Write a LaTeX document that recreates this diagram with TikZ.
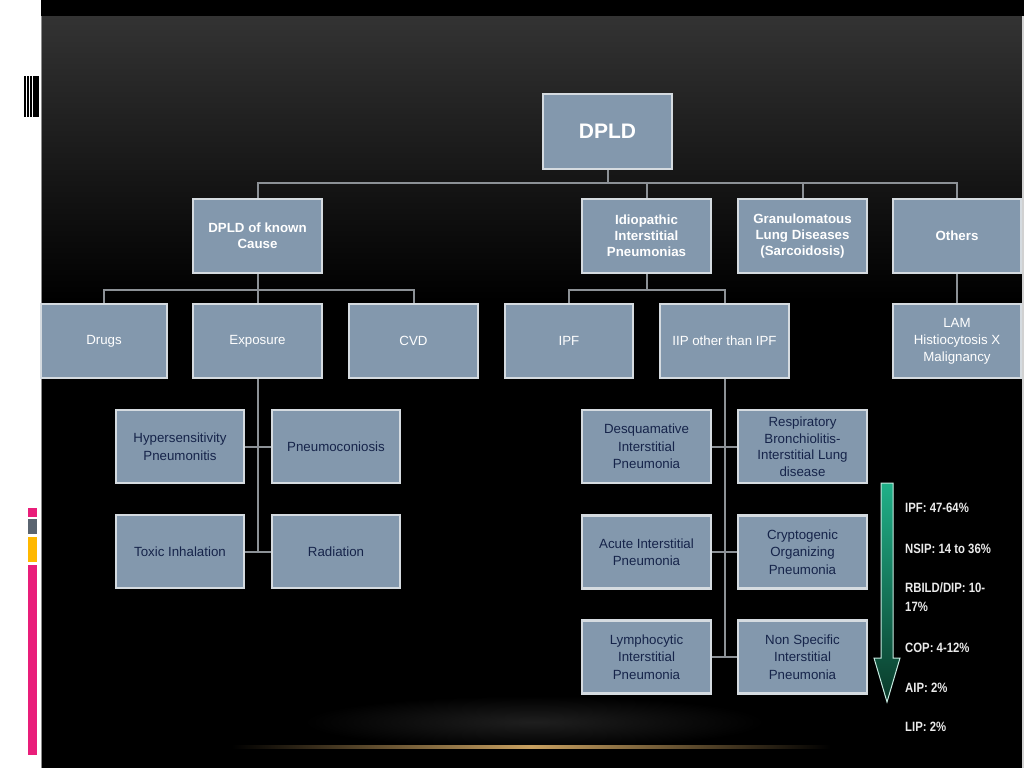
\documentclass[tikz,border=0pt]{standalone}
\usepackage{fontspec}
\setmainfont{Liberation Sans}
\newfontfamily\narrowstat[FakeStretch=0.84]{Liberation Sans}
\usetikzlibrary{positioning}
\definecolor{boxfill}{HTML}{8398AD}
\definecolor{boxline}{HTML}{D5DBE0}
\definecolor{navytext}{HTML}{16244A}
\definecolor{wiretone}{HTML}{8C9196}
\definecolor{barpink}{HTML}{E91E7A}
\definecolor{bargray}{HTML}{5A6470}
\definecolor{bargold}{HTML}{FFB800}
\definecolor{glowgold}{HTML}{C8A060}
\definecolor{arrowtop}{HTML}{20B088}
\definecolor{arrowbot}{HTML}{0A3A2A}
\tikzset{
  box/.style={draw=boxline, line width=2.2pt, fill=boxfill, minimum width=129pt,
    minimum height=74pt, align=center, inner sep=2pt},
  topbox/.style={box, text=white, font=\bfseries\fontsize{13.3}{16}\selectfont},
  midbox/.style={box, text=white, font=\fontsize{13.3}{17}\selectfont},
  leafbox/.style={box, text=navytext, font=\fontsize{13.3}{17.5}\selectfont},
  wire/.style={draw=wiretone, line width=2pt},
  stat/.style={text=white!92!black, font=\narrowstat\bfseries\fontsize{13.5}{19}\selectfont,
    anchor=west, align=left, inner sep=0pt}
}
\begin{document}
\begin{tikzpicture}[x=1pt,y=-1pt]
\useasboundingbox (0,0) rectangle (1024,768);
% background
\fill[white] (0,0) rectangle (1024,768);
\fill[black] (41,0) rectangle (1024,768);
\shade[top color=black!80!white, bottom color=black] (42,16) rectangle (1022,300);
\fill[black] (42,0) rectangle (1024,16);
\fill[black!18] (1022,16) rectangle (1024,768);
\draw[black!45, line width=0.8pt] (41.5,16) -- (41.5,768);
% bottom glow
\shade[inner color=black!88!white, outer color=black] (534,722) ellipse [x radius=230, y radius=26];
\shade[left color=black, right color=black, middle color=glowgold] (232,745.5) rectangle (830,748.5);
% left decorations
\fill[black] (24,76) rectangle (26,117);
\fill[black] (27,76) rectangle (29,117);
\fill[black] (30,76) rectangle (31.5,117);
\fill[black] (33,76) rectangle (39,117);
\fill[barpink] (28,508) rectangle (37,517);
\fill[bargray] (28,519) rectangle (37,534);
\fill[bargold] (28,537) rectangle (37,562);
\fill[barpink] (28,565) rectangle (37,755);

% nodes
\node[box, text=white, font=\bfseries\fontsize{21}{24}\selectfont, minimum height=75pt] (dpld) at (607.5,131.5) {DPLD};
\node[topbox] (known) at (257.5,236) {DPLD of known\\Cause};
\node[topbox] (idio) at (646.5,236) {Idiopathic\\Interstitial\\Pneumonias};
\node[topbox] (gran) at (802.5,236) {Granulomatous\\Lung Diseases\\(Sarcoidosis)};
\node[topbox, minimum width=128pt] (others) at (957,236) {Others};

\node[midbox, minimum width=126pt] (drugs) at (104,341) {Drugs};
\node[midbox] (exposure) at (257.5,341) {Exposure};
\node[midbox] (cvd) at (413.5,341) {CVD};
\node[midbox, minimum width=128pt] (ipf) at (569,341) {IPF};
\node[midbox] (iip) at (724.5,341) {IIP other than IPF};
\node[midbox, minimum width=128pt] (lam) at (957,341) {LAM\\Histiocytosis X\\Malignancy};

\node[leafbox, minimum width=128pt, minimum height=73pt] (hyper) at (180,446.5) {Hypersensitivity\\Pneumonitis};
\node[leafbox, minimum width=128pt, minimum height=73pt] (pneumo) at (336,446.5) {Pneumoconiosis};
\node[leafbox, minimum width=128pt, minimum height=73pt] (toxic) at (180,551.5) {Toxic Inhalation};
\node[leafbox, minimum width=128pt, minimum height=73pt] (radiation) at (336,551.5) {Radiation};

\node[leafbox, minimum height=73pt] (desq) at (646.5,446.5) {Desquamative\\Interstitial\\Pneumonia};
\node[leafbox, minimum height=73pt, font=\fontsize{13.3}{16.5}\selectfont] (resp) at (802.5,446.5) {Respiratory\\Bronchiolitis-\\Interstitial Lung\\disease};
\node[leafbox, minimum height=73pt] (acute) at (646.5,552) {Acute Interstitial\\Pneumonia};
\node[leafbox, minimum height=73pt] (crypt) at (802.5,552) {Cryptogenic\\Organizing\\Pneumonia};
\node[leafbox, minimum height=73pt] (lymph) at (646.5,657) {Lymphocytic\\Interstitial\\Pneumonia};
\node[leafbox, minimum height=73pt] (nonspec) at (802.5,657) {Non Specific\\Interstitial\\Pneumonia};

% connectors level 1
\coordinate (busA) at (0,183);
\draw[wire] (dpld.south) -- (dpld.south |- busA);
\draw[wire] (known.north) -- (known.north |- busA) -- (others.north |- busA) -- (others.north);
\draw[wire] (idio.north) -- (idio.north |- busA);
\draw[wire] (gran.north) -- (gran.north |- busA);
% connectors level 2
\coordinate (busB) at (0,290);
\draw[wire] (known.south) -- (known.south |- busB);
\draw[wire] (drugs.north) -- (drugs.north |- busB) -- (cvd.north |- busB) -- (cvd.north);
\draw[wire] (exposure.north) -- (exposure.north |- busB);
\draw[wire] (idio.south) -- (idio.south |- busB);
\draw[wire] (ipf.north) -- (ipf.north |- busB) -- (iip.north |- busB) -- (iip.north);
\draw[wire] (others.south) -- (lam.north);
% exposure children
\draw[wire] (exposure.south) -- (exposure.south |- toxic.east);
\draw[wire] (hyper.east) -- (pneumo.west);
\draw[wire] (toxic.east) -- (radiation.west);
% IIP children
\draw[wire] (iip.south) -- (iip.south |- lymph.east);
\draw[wire] (desq.east) -- (resp.west);
\draw[wire] (acute.east) -- (crypt.west);
\draw[wire] (lymph.east) -- (nonspec.west);

% frequency arrow
\shade[top color=arrowtop, bottom color=arrowbot, draw=white!75!arrowtop, line width=1pt]
  (881,483) -- (893,483) -- (893,658) -- (900,658) -- (887,702) -- (874,658) -- (881,658) -- cycle;

% statistics
\node[stat] (s1) at (905,508) {IPF: 47-64\%};
\node[stat] (s2) at (905,549) {NSIP: 14 to 36\%};
\node[stat] (s3) at (905,597) {RBILD/DIP: 10-\\17\%};
\node[stat] (s4) at (905,648) {COP: 4-12\%};
\node[stat] (s5) at (905,688) {AIP: 2\%};
\node[stat] (s6) at (905,727) {LIP: 2\%};
\end{tikzpicture}
\end{document}
